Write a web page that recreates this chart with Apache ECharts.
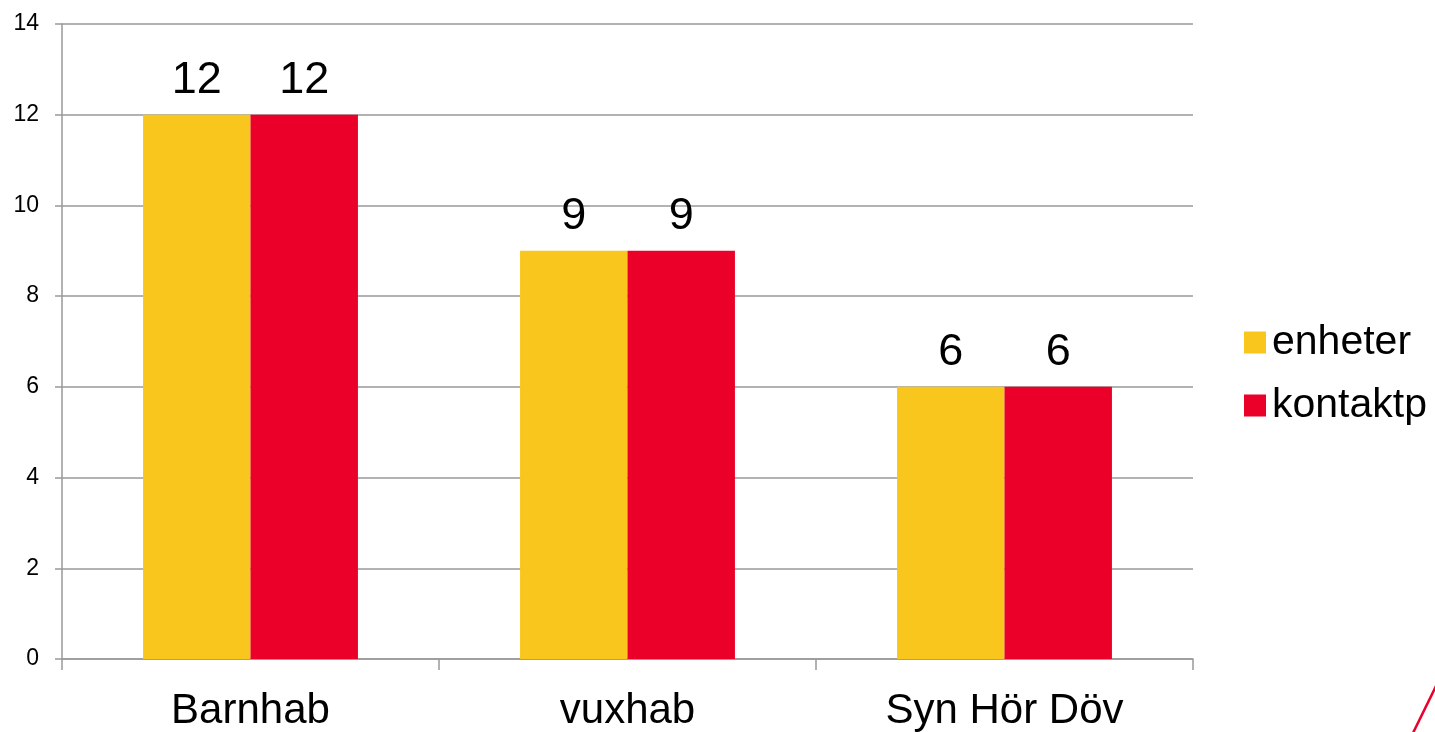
<!DOCTYPE html>
<html><head><meta charset="utf-8">
<script src="https://cdn.jsdelivr.net/npm/echarts@6/dist/echarts.min.js"></script>
<style>html,body{margin:0;padding:0;background:#fff}#c{width:1435px;height:732px}</style>
</head><body><div id="c"></div>
<script>
var categories = ["Barnhab", "vuxhab", "Syn Hör Döv"];
var enheter = [12, 9, 6];
var kontaktp = [12, 9, 6];
var seriesNames = ["enheter", "kontaktp"];

var chart = echarts.init(document.getElementById('c'));
var font = 'Liberation Sans, Arial, sans-serif';
var label = {show: true, position: 'top', distance: 12, fontSize: 45, color: '#000', fontFamily: font};
chart.setOption({
  animation: false,
  grid: {left: 62, right: 242, top: 24, bottom: 72},
  legend: {
    orient: 'vertical', left: 1239, top: 317, itemWidth: 22, itemHeight: 22, itemGap: 22,
    icon: 'rect',
    textStyle: {fontSize: 41, color: '#000', fontFamily: font, padding: [0,0,0,1]},
    data: seriesNames
  },
  xAxis: {
    type: 'category', data: categories,
    axisLine: {lineStyle: {color: '#999', width: 1.5}},
    axisTick: {show: true, length: 11, lineStyle: {color: '#999', width: 1.5}},
    axisLabel: {fontSize: 42, color: '#000', fontFamily: font, margin: 31}
  },
  yAxis: {
    type: 'value', min: 0, max: 14, interval: 2,
    axisLine: {show: true, lineStyle: {color: '#999', width: 1.5}},
    axisTick: {show: true, length: 7, lineStyle: {color: '#999', width: 1.5}},
    splitLine: {lineStyle: {color: '#999', width: 1.5}},
    axisLabel: {fontSize: 23, color: '#000', fontFamily: font, margin: 23}
  },
  series: [
    {name: seriesNames[0], type: 'bar', data: enheter, barGap: '0%', barCategoryGap: '43%',
     itemStyle: {color: '#F9C61D'}, label: label},
    {name: seriesNames[1], type: 'bar', data: kontaktp,
     itemStyle: {color: '#EA0029'}, label: label}
  ],
  graphic: [{type: 'line', shape: {x1: 1413, y1: 733, x2: 1436, y2: 686},
    style: {stroke: '#EA0029', lineWidth: 2.5}}]
});
</script></body></html>
